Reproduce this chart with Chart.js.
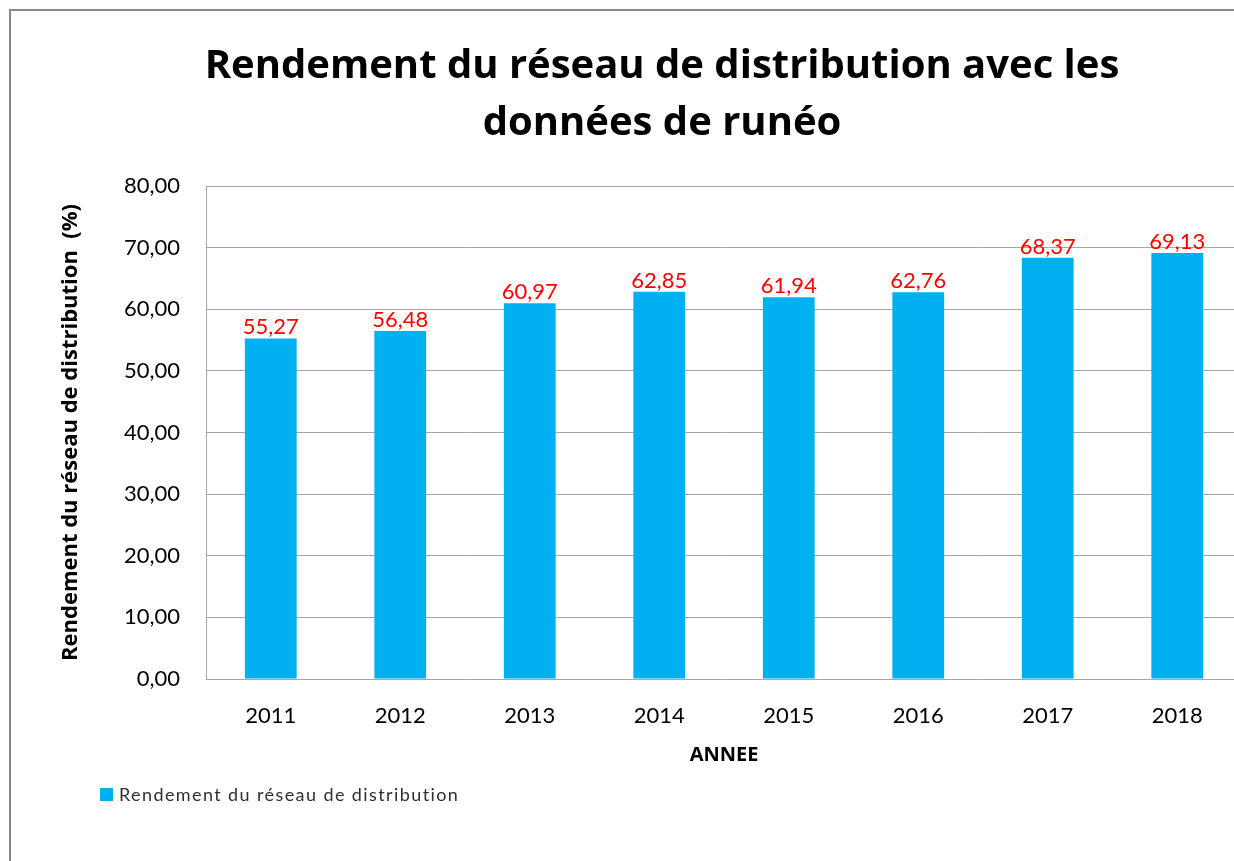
<!DOCTYPE html>
<html>
<head>
<meta charset="utf-8">
<script src="https://cdn.jsdelivr.net/npm/chart.js@4"></script>
<style>
    body { margin: 0; background: #fff; overflow: hidden; }
    #cadre {
        position: absolute; left: 9px; top: 9px;
        width: 1302px; height: 850px;
        border-left: 2px solid #888; border-top: 2px solid #888;
    }
</style>
</head>
<body>
<div id="cadre"><canvas id="graphique"></canvas></div>
<script>
// Données
const annees = ["2011", "2012", "2013", "2014", "2015", "2016", "2017", "2018"];
const rendement = [55.27, 56.48, 60.97, 62.85, 61.94, 62.76, 68.37, 69.13];
const titreLignes = ["Rendement du réseau de distribution avec les", "données de runéo"];
const nomSerie = "Rendement du réseau de distribution";
const titreY = "Rendement du réseau de distribution  (%)";
const titreX = "ANNEE";

const police = "Lato";
const policeGras = "'Open Sans'";
const bleu = '#00B0F0';
const gris = '#A6A6A6';

// format 55,27
function virgule(v) {
    return v.toFixed(2).replace('.', ',');
}

// étiquettes rouges au-dessus des barres
const etiquettes = {
    id: 'etiquettes',
    afterDatasetsDraw(chart) {
        const ctx = chart.ctx;
        const meta = chart.getDatasetMeta(0);
        ctx.save();
        ctx.font = '22px ' + police;
        ctx.fillStyle = '#FF0000';
        ctx.textAlign = 'center';
        ctx.textBaseline = 'bottom';
        meta.data.forEach(function (bar, i) {
            ctx.fillText(virgule(chart.data.datasets[0].data[i]), bar.x, bar.y);
        });
        ctx.restore();
    }
};

// légende en bas à gauche
const legende = {
    id: 'legende',
    afterDraw(chart) {
        const ctx = chart.ctx;
        const ds = chart.data.datasets[0];
        ctx.save();
        ctx.fillStyle = ds.backgroundColor;
        ctx.fillRect(89, 777, 13, 13);
        ctx.font = '18px ' + police;
        ctx.letterSpacing = '1.4px';
        ctx.fillStyle = '#303030';
        ctx.textAlign = 'left';
        ctx.textBaseline = 'middle';
        ctx.fillText(ds.label, 108, 784);
        ctx.restore();
    }
};

const ctx = document.getElementById('graphique').getContext('2d');
const graphique = new Chart(ctx, {
    type: 'bar',
    data: {
        labels: annees,
        datasets: [{
            label: nomSerie,
            data: rendement,
            backgroundColor: bleu,
            barPercentage: 0.4,
            categoryPercentage: 1.0,
        }]
    },
    options: {
        responsive: true,
        maintainAspectRatio: false,
        animation: false,
        layout: { padding: { left: 0, right: 0, top: 0, bottom: 82 } },
        plugins: {
            legend: { display: false },
            tooltip: { enabled: false },
            title: {
                display: true,
                text: titreLignes,
                color: '#000',
                font: { family: policeGras, size: 40, weight: 'bold', lineHeight: 1.425 },
                padding: { top: 27, bottom: 34 },
            },
        },
        scales: {
            x: {
                grid: { display: false },
                border: { display: true, color: gris, width: 1 },
                ticks: { color: '#000', font: { family: police, size: 22 }, padding: 16 },
                title: {
                    display: true, text: titreX, color: '#000',
                    font: { family: policeGras, size: 20, weight: 'bold' },
                    padding: { top: 0, bottom: 12 },
                },
                afterFit: function (s) { s.height = 100; },
            },
            y: {
                min: 0,
                max: 80,
                ticks: {
                    stepSize: 10, color: '#000', padding: 26,
                    font: { family: police, size: 22 },
                    callback: function (v) { return virgule(v); },
                },
                grid: { color: gris, drawTicks: false },
                border: { display: true, color: gris, width: 1 },
                title: {
                    display: true, text: titreY, color: '#000',
                    font: { family: policeGras, size: 22, weight: 'bold' },
                    padding: { top: 47, bottom: 0 },
                },
                afterFit: function (s) { s.width = 195; },
            },
            droite: {
                type: 'linear',
                position: 'right',
                display: true,
                grid: { display: false },
                border: { display: false },
                ticks: { display: false },
                afterFit: function (s) { s.width = 71; },
            },
        },
    },
    plugins: [etiquettes, legende],
});
</script>
</body>
</html>
